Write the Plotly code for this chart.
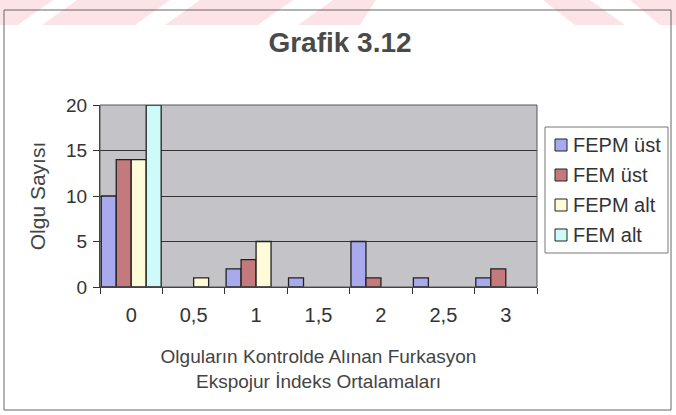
import plotly.graph_objects as go

categories = ["0", "0,5", "1", "1,5", "2", "2,5", "3"]
fepm_ust = [10, None, 2, 1, 5, 1, 1]
fem_ust = [14, None, 3, None, 1, None, 2]
fepm_alt = [14, 1, 5, None, None, None, None]
fem_alt = [20, None, None, None, None, None, None]
y_ticks = [0, 5, 10, 15, 20]

series_names = ["FEPM üst", "FEM üst", "FEPM alt", "FEM alt"]
series_values = [fepm_ust, fem_ust, fepm_alt, fem_alt]
series_colors = ["#a9a9ee", "#c47a7c", "#fdfbd8", "#cffafa"]

W, H = 676, 415
L, R, T, B = 100, 139, 105, 128
pw, ph = W - L - R, H - T - B


def px(x):
    return (x - L) / pw


def py(y):
    return (H - B - y) / ph


fig = go.Figure()
for name, vals, col in zip(series_names, series_values, series_colors):
    fig.add_trace(go.Bar(
        x=categories, y=vals, name=name, showlegend=False,
        marker=dict(color=col, line=dict(color="#222222", width=1.3)),
    ))

FONT = "Liberation Sans, Arial, sans-serif"
fig.update_layout(
    width=W, height=H,
    margin=dict(l=L, r=R, t=T, b=B),
    paper_bgcolor="white",
    plot_bgcolor="#c4c4c8",
    barmode="group",
    bargap=0.04,
    bargroupgap=0,
    font=dict(family=FONT, color="#333333"),
    title=dict(text="<b>Grafik 3.12</b>", x=(340) / W, xanchor="center",
               y=1 - 42 / H, yanchor="middle",
               font=dict(size=28, color="#4a4a4a")),
    xaxis=dict(
        type="category",
        showgrid=False,
        showline=True, linecolor="#333333", linewidth=1,
        ticks="outside", ticklen=6, tickcolor="#333333",
        tickson="boundaries",
        ticklabelstandoff=10,
        tickfont=dict(size=20, color="#333333"),
        title=dict(text="Olguların Kontrolde Alınan Furkasyon<br>Ekspojur İndeks Ortalamaları",
                   font=dict(size=19, color="#444444"), standoff=24),
    ),
    yaxis=dict(
        range=[0, 20],
        tickvals=y_ticks,
        showgrid=True, gridcolor="#333333", gridwidth=1,
        showline=True, linecolor="#333333", linewidth=1,
        ticks="outside", ticklen=6, tickcolor="#333333",
        ticklabelstandoff=2,
        tickfont=dict(size=19, color="#333333"),
        title=dict(text="Olgu Sayısı", font=dict(size=21, color="#444444"), standoff=14),
        zeroline=False,
    ),
)

# faint pink watermark stripes of the scan (background decoration)
stripes = [
    ((0, 53), (-35, 18)),
    ((77, 170), (42, 135)),
    ((200, 293), (165, 258)),
    ((333, 376), (298, 360)),
    ((543, 590), (575, 625)),
    ((630, 676), (660, 676)),
]
for (t0, t1), (b0, b1) in stripes:
    path = (f"M {px(t0)},{py(0)} L {px(t1)},{py(0)} "
            f"L {px(b1)},{py(25)} L {px(b0)},{py(25)} Z")
    fig.add_shape(type="path", xref="paper", yref="paper", path=path,
                  fillcolor="#fbe3e8", line=dict(width=0), layer="below")

# outer chart border
fig.add_shape(type="rect", xref="paper", yref="paper",
              x0=px(4), x1=px(671), y0=py(410), y1=py(10),
              line=dict(color="#666666", width=1), layer="below")
# plot area border
fig.add_shape(type="rect", xref="paper", yref="paper",
              x0=0, x1=1, y0=0, y1=1,
              line=dict(color="#555555", width=1), layer="above")

# legend box drawn like the original
fig.add_shape(type="rect", xref="paper", yref="paper",
              x0=px(545), x1=px(668), y0=py(253), y1=py(127),
              fillcolor="white", line=dict(color="#777777", width=1))
row_y = [145, 175, 205, 235]
for name, col, ry in zip(series_names, series_colors, row_y):
    fig.add_shape(type="rect", xref="paper", yref="paper",
                  x0=px(555), x1=px(567), y0=py(ry + 6), y1=py(ry - 6),
                  fillcolor=col, line=dict(color="#222222", width=1))
    fig.add_annotation(xref="paper", yref="paper", x=px(571), y=py(ry),
                       xanchor="left", yanchor="middle", text=name,
                       showarrow=False, font=dict(size=20, color="#333333"))

fig.write_html("out.html", config={"displayModeBar": False},
               post_script="document.body.style.margin='0';")
